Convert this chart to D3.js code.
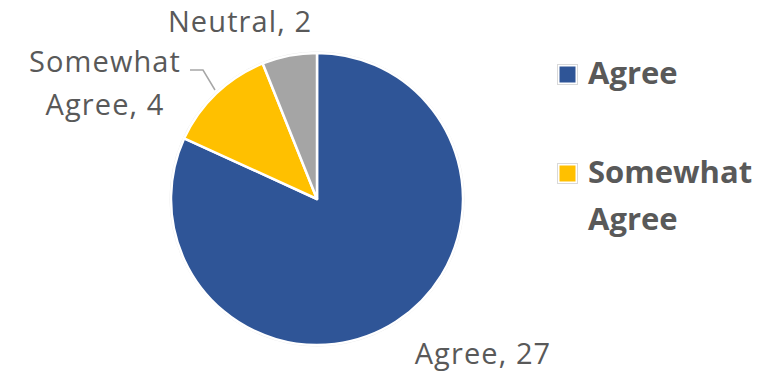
<!DOCTYPE html>
<html lang="en">
<head>
  <meta charset="UTF-8" />
  <title>Agreement Pie</title>
  <script src="https://d3js.org/d3.v7.min.js"></script>
  <style>
    body { margin: 0; background: white; font-family: "Open Sans", sans-serif; }
    svg { display: block; }
  </style>
</head>
<body>
<svg id="chart" width="777" height="374"></svg>
<script>
const categories = ["Agree", "Somewhat Agree", "Neutral"];
const values = [27, 4, 2];
const colors = ["#2F5597", "#FFC000", "#A5A5A5"];
const legendItems = ["Agree", "Somewhat Agree"];

const svg = d3.select("#chart");
const cx = 317, cy = 199, radius = 146;
const textColor = "#595959";

const data = categories.map((c, i) => ({ name: c, value: values[i] }));
const pie = d3.pie().sort(null).value(d => d.value);
const arc = d3.arc().innerRadius(0).outerRadius(radius);
const color = d3.scaleOrdinal(categories, colors);

const g = svg.append("g").attr("transform", `translate(${cx},${cy})`);

// faint outer ring like the original
g.append("circle").attr("r", radius + 1).attr("fill", "none").attr("stroke", "#e8e8e8").attr("stroke-width", 1);

g.selectAll("path.slice")
  .data(pie(data)).join("path")
  .attr("class", "slice")
  .attr("d", arc)
  .attr("fill", d => color(d.data.name))
  .attr("stroke", "white")
  .attr("stroke-width", 2.5)
  .attr("stroke-linejoin", "round");

// data labels (line layout per category)
const labelLayout = {
  "Agree": { x: 483, y: 364, lines: ["Agree, 27"] },
  "Somewhat Agree": { x: 105, y: 72, lines: ["Somewhat", "Agree, 4"] },
  "Neutral": { x: 240, y: 32, lines: ["Neutral, 2"] }
};
data.forEach(d => {
  const l = labelLayout[d.name];
  const t = svg.append("text")
    .attr("x", l.x).attr("y", l.y)
    .attr("text-anchor", "middle")
    .attr("font-size", 29)
    .attr("letter-spacing", 1.1)
    .attr("fill", textColor);
  l.lines.forEach((line, i) => {
    t.append("tspan").attr("x", l.x).attr("dy", i === 0 ? 0 : 43).text(line);
  });
});

// leader line for Somewhat Agree
svg.append("polyline")
  .attr("points", "190,70 203,70 215,90")
  .attr("fill", "none")
  .attr("stroke", "#A6A6A6")
  .attr("stroke-width", 1.5);

// legend
const legend = svg.append("g").attr("transform", "translate(557,64)");
legendItems.forEach((name, i) => {
  const item = legend.append("g").attr("transform", `translate(0,${i * 99})`);
  item.append("rect").attr("x", 0.5).attr("y", 0.5).attr("width", 20).attr("height", 20)
    .attr("fill", "white").attr("stroke", "#d9d9d9").attr("stroke-width", 1);
  item.append("rect").attr("x", 2.5).attr("y", 2.5).attr("width", 16).attr("height", 16)
    .attr("fill", color(name));
  const words = name === "Somewhat Agree" ? ["Somewhat", "Agree"] : [name];
  const t = item.append("text").attr("x", 31).attr("y", 20)
    .attr("font-size", 31).attr("font-weight", "bold").attr("fill", textColor);
  words.forEach((w, j) => t.append("tspan").attr("x", 31).attr("dy", j === 0 ? 0 : 47).text(w));
});
</script>
</body>
</html>
